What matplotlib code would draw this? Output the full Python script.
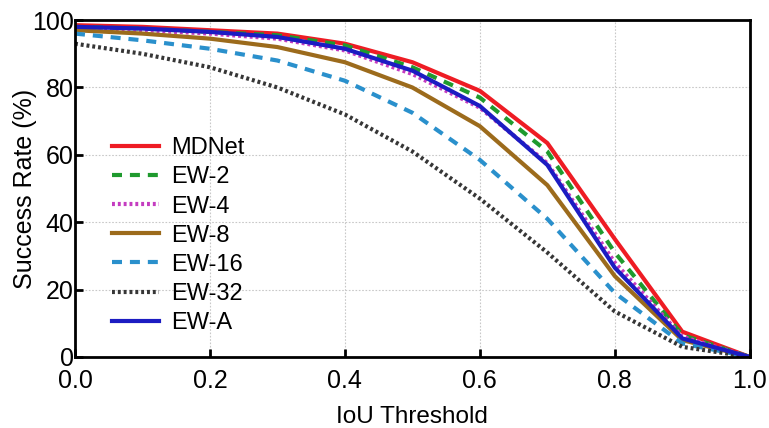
import matplotlib
matplotlib.use("Agg")
import matplotlib.pyplot as plt
import numpy as np

plt.rcParams['font.family'] = ['Liberation Sans', 'DejaVu Sans']

iou = [0.0, 0.1, 0.2, 0.3, 0.4, 0.5, 0.6, 0.7, 0.8, 0.9, 1.0]
mdnet = [98.5, 98.0, 97.0, 96.0, 93.0, 87.5, 79.0, 63.5, 35.0, 7.5, 0.0]
ew2 = [98.0, 97.5, 96.5, 95.5, 92.5, 86.0, 77.0, 61.0, 31.0, 6.5, 0.0]
ew4 = [97.5, 97.0, 96.0, 94.5, 91.0, 84.0, 74.0, 57.5, 28.0, 6.0, 0.0]
ew8 = [97.0, 96.0, 94.5, 92.0, 87.5, 80.0, 68.5, 51.0, 24.0, 5.0, 0.0]
ew16 = [96.0, 94.0, 91.5, 88.0, 82.0, 72.5, 58.5, 41.0, 19.0, 4.0, 0.0]
ew32 = [93.0, 90.0, 86.0, 80.0, 72.0, 61.0, 47.0, 31.0, 13.5, 3.0, 0.0]
ewa = [98.0, 97.5, 96.5, 95.0, 91.5, 85.0, 74.5, 57.0, 26.5, 5.5, 0.0]

labels = ['MDNet', 'EW-2', 'EW-4', 'EW-8', 'EW-16', 'EW-32', 'EW-A']
series = [mdnet, ew2, ew4, ew8, ew16, ew32, ewa]
colors = ['#ee1c24', '#1f9a2e', '#c43cc0', '#9c6b1c', '#2a90cc', '#363636', '#1c1cc2']
styles = ['-', (0, (2.4, 1.9)), (0, (0.7, 0.7)), '-', (0, (2.4, 1.9)), (0, (0.7, 0.7)), '-']

fig = plt.figure(figsize=(7.69, 4.28), dpi=100)
ax = fig.add_axes([0.0975, 0.166, 0.8775, 0.787])

for y, lab, c, ls in zip(series, labels, colors, styles):
    ax.plot(iou, y, color=c, linestyle=ls, linewidth=3.0, label=lab)

ax.set_xlim(0, 1)
ax.set_ylim(0, 100)
ax.set_xticks([0, 0.2, 0.4, 0.6, 0.8, 1.0])
ax.set_yticks([0, 20, 40, 60, 80, 100])
ax.set_xticklabels(['0.0', '0.2', '0.4', '0.6', '0.8', '1.0'])
ax.grid(True, color='#c8c8c8', linestyle=(0, (1.5, 1.5)), linewidth=0.8)
for s in ax.spines.values():
    s.set_linewidth(2.0)
ax.tick_params(direction='in', length=6, width=2, labelsize=18)
ax.tick_params(axis='x', pad=9)
ax.tick_params(axis='y', pad=1)
ax.set_xlabel('IoU Threshold', fontsize=17.5, labelpad=9)
ax.set_ylabel('Success Rate (%)', fontsize=18, labelpad=-3.5)

ax.legend(loc='upper left', bbox_to_anchor=(0.041, 0.68), frameon=False, fontsize=17,
          handlelength=2.0, labelspacing=0.3, handletextpad=0.5, borderaxespad=0.0)

fig.savefig('out.png', dpi=100)
